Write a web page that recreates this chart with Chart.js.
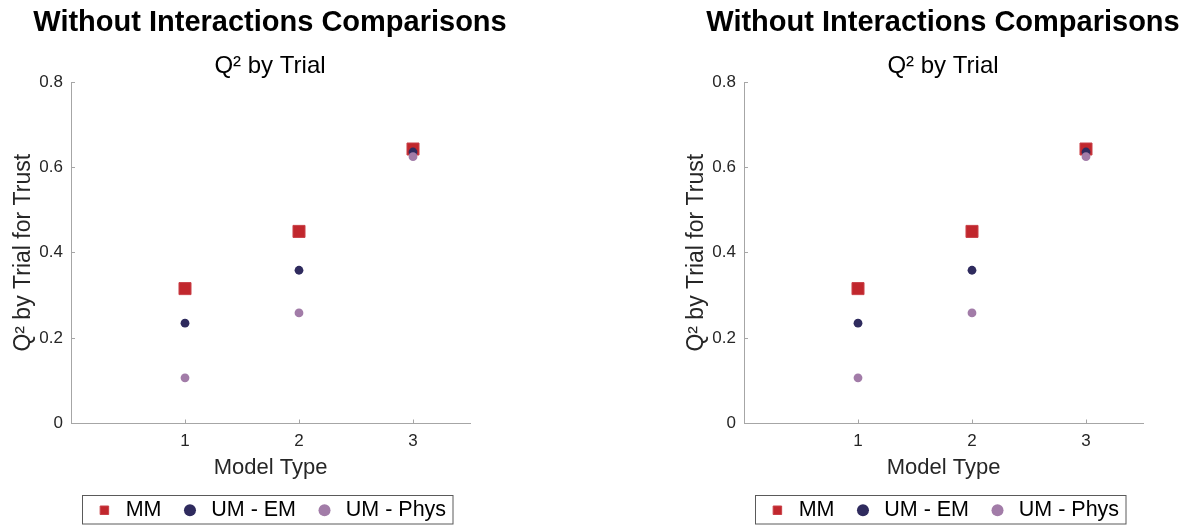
<!DOCTYPE html>
<html>
<head>
<meta charset="utf-8">
<script src="https://cdn.jsdelivr.net/npm/chart.js@4.4.1/dist/chart.umd.min.js"></script>
<style>
html, body {margin: 0; padding: 0; background: #fff; overflow: hidden; width: 1193px; height: 525px;}
.panel {position: absolute; top: 0; width: 540px; height: 531px;}
</style>
</head>
<body>
<div class="panel" style="left: 0"><canvas id="left" width="540" height="531"></canvas></div>
<div class="panel" style="left: 673px"><canvas id="right" width="540" height="531"></canvas></div>
<script>
const modelTypes = [1, 2, 3];
const mm = [0.316, 0.450, 0.643];
const umEm = [0.235, 0.359, 0.636];
const umPhys = [0.107, 0.259, 0.625];
const yTicks = [0, 0.2, 0.4, 0.6, 0.8];
const seriesNames = ["MM", "UM - EM", "UM - Phys"];

Chart.defaults.font.family = "'Liberation Sans', Arial, sans-serif";
const axisGrey = "#a6a6a6";
const tickText = "#262626";

//Chart.js has no boxed legend, so draw the frame round the legend items
const legendFrame = {
	id: "legendFrame",
	afterDraw(chart) {
		const boxes = chart.legend && chart.legend.legendHitBoxes;
		if (!boxes || !boxes.length) return;
		const left = Math.min(...boxes.map(b => b.left));
		const right = Math.max(...boxes.map(b => b.left + b.width));
		const top = Math.min(...boxes.map(b => b.top));
		const bottom = Math.max(...boxes.map(b => b.top + b.height));
		const ctx = chart.ctx;
		ctx.save();
		ctx.strokeStyle = "#5a5a5a";
		ctx.lineWidth = 1;
		const x0 = Math.round(left - 11.5) + 0.5, y0 = Math.round(top - 5) + 0.5;
		ctx.strokeRect(x0, y0, Math.round(right + 7) - x0, Math.round(bottom + 3) - y0);
		ctx.restore();
	},
};

function points(vals) {return modelTypes.map((x, i) => ({x, y: vals[i]}));}

function makeChart(id) {
	return new Chart(document.getElementById(id), {
		type: "scatter",
		data: {
			datasets: [
				{label: seriesNames[0], data: points(mm), pointStyle: "rect", pointRadius: 8.5,
					backgroundColor: "#c1272d", borderColor: "#c94048", borderWidth: 1, order: 3},
				{label: seriesNames[1], data: points(umEm), pointStyle: "circle", pointRadius: 4.4,
					backgroundColor: "#2f2b5e", borderColor: "#2f2b5e", borderWidth: 0, order: 2},
				{label: seriesNames[2], data: points(umPhys), pointStyle: "circle", pointRadius: 4.4,
					backgroundColor: "#a27ca8", borderColor: "#a27ca8", borderWidth: 0, order: 1},
			],
		},
		options: {
			responsive: false,
			animation: false,
			layout: {autoPadding: false, padding: 0},
			plugins: {
				tooltip: {enabled: false},
				title: {display: true, text: "Without Interactions Comparisons", color: "#000",
					font: {size: 29, weight: "bold"}, padding: {top: 6, bottom: 0}},
				subtitle: {display: true, text: "Q² by Trial", color: "#000",
					font: {size: 24}, padding: {top: 10.7, bottom: 1.7}},
				legend: {
					position: "bottom",
					labels: {
						usePointStyle: true, boxWidth: 21, boxHeight: 8.5, padding: 18,
						color: "#000", font: {size: 21.5},
						sort: (a, b) => a.datasetIndex - b.datasetIndex,
					},
				},
			},
			scales: {
				x: {
					type: "linear", min: 0, max: 3.5,
					afterBuildTicks: s => {s.ticks = modelTypes.map(value => ({value}));},
					afterFit: s => {s.height = 58;},
					grid: {drawOnChartArea: false, tickLength: -4, color: axisGrey},
					border: {color: axisGrey},
					ticks: {color: tickText, font: {size: 17}, padding: 12, maxRotation: 0},
					title: {display: true, text: "Model Type", color: tickText, font: {size: 22}, padding: {top: 0, bottom: 0}},
				},
				y: {
					type: "linear", min: 0, max: 0.8,
					afterBuildTicks: s => {s.ticks = yTicks.map(value => ({value}));},
					afterFit: s => {s.width = 71;},
					grid: {drawOnChartArea: false, tickLength: -4, color: axisGrey},
					border: {color: axisGrey},
					ticks: {color: tickText, font: {size: 17}, padding: 12},
					title: {display: true, text: "Q² by Trial for Trust", color: tickText, font: {size: 23}, padding: {top: 10, bottom: 0}},
				},
				//Empty axis on the right, only to hold the plot area at the reference width
				yR: {
					type: "linear", position: "right", display: true,
					afterFit: s => {s.width = 70;},
					grid: {display: false}, border: {display: false}, ticks: {display: false},
				},
			},
		},
		plugins: [legendFrame],
	});
}

makeChart("left");
makeChart("right");
</script>
</body>
</html>
